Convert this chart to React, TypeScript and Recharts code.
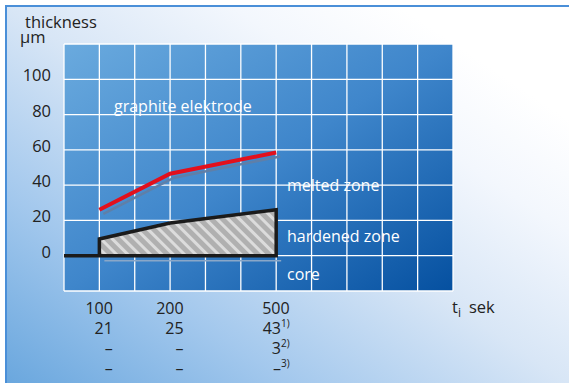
import React from 'react';
import { ComposedChart, Line, Area, XAxis, YAxis, CartesianGrid } from 'recharts';

// grid columns of the plot, the times sit on some of them
const columns = [0, 1, 2, 3, 4, 5, 6, 7, 8, 9, 10, 11];
const timeColumns = [1, 3, 6];
const times = ['100', '200', '500'];
const rowTwo = ['21', '25', '43'];
const rowThree = ['–', '–', '3'];
const rowFour = ['–', '–', '–'];
const notes = ['1)', '2)', '3)'];

const yTicks = [-20, 0, 20, 40, 60, 80, 100, 120];
const yLabels = [0, 20, 40, 60, 80, 100];

// thickness in µm
const meltedTop = [26, 46.5, 58.5];
const hardenedTop = [9.5, 18.5, 26];

const meltedData = timeColumns.map((x, i) => ({ x, v: meltedTop[i] }));
const hardenedData = timeColumns.map((x, i) => ({ x, v: hardenedTop[i] }));
const outlineData = [
  { x: 0, v: 0 },
  { x: timeColumns[0], v: 0 },
  ...hardenedData,
  { x: timeColumns[timeColumns.length - 1], v: 0 },
  { x: timeColumns[0], v: 0 },
];

const FONT = '"Open Sans", sans-serif';
const DARK = '#222';

const YTick = ({ y, payload }: any) => {
  if (!yLabels.includes(payload.value)) return null;
  return (
    <text x={51} y={y + 2} textAnchor="end" fontSize={16.5} fill={DARK} fontFamily={FONT}>
      {payload.value}
    </text>
  );
};

const XTick = ({ x, payload }: any) => {
  const i = timeColumns.indexOf(payload.value);
  if (i < 0) return null;
  const withNote = i === times.length - 1;
  const right = x + 13.5;
  const sup = (n: string) =>
    withNote ? (
      <tspan fontSize={10} dy={-7}>
        {n}
      </tspan>
    ) : null;
  return (
    <g fontSize={16} fill={DARK} fontFamily={FONT} textAnchor="end">
      <text x={right} y={314}>{times[i]}</text>
      <text x={right} y={334}>
        {rowTwo[i]}
        {sup(notes[0])}
      </text>
      <text x={right} y={354}>
        {rowThree[i]}
        {sup(notes[1])}
      </text>
      <text x={right} y={374}>
        {rowFour[i]}
        {sup(notes[2])}
      </text>
    </g>
  );
};

export default function App() {
  return (
    <div
      style={{
        position: 'absolute',
        left: 0,
        top: 0,
        width: 569,
        height: 383,
        background: '#fff',
      }}
    >
      <div
        style={{
          position: 'absolute',
          left: 5,
          top: 5,
          right: 0,
          bottom: 0,
          borderLeft: '2px solid #4a8fd8',
          borderTop: '2px solid #4a8fd8',
          background:
            'linear-gradient(to top right, #6aa7de 0%, #a3c8ed 25%, #d8e6f6 50%, #f3f7fd 70%, #ffffff 85%)',
        }}
      />
      <div style={{ position: 'absolute', left: 0, top: 0 }}>
        <ComposedChart width={569} height={383} margin={{ top: 44, right: 116, bottom: 0, left: 4 }}>
          <defs>
            <linearGradient id="plotBg" x1="0" y1="0" x2="1" y2="1">
              <stop offset="0%" stopColor="#6aaade" />
              <stop offset="50%" stopColor="#3f86cb" />
              <stop offset="100%" stopColor="#0550a0" />
            </linearGradient>
            <pattern id="hatch" width="8" height="8" patternUnits="userSpaceOnUse" patternTransform="rotate(45)">
              <rect width="8" height="8" fill="#b0b0b0" />
              <rect width="8" height="3" fill="#dcdcdc" />
            </pattern>
          </defs>
          <CartesianGrid stroke="#fff" strokeWidth={1.3} fill="url(#plotBg)" fillOpacity={1} />
          <XAxis
            type="number"
            dataKey="x"
            domain={[0, 11]}
            ticks={columns}
            interval={0}
            height={92}
            axisLine={false}
            tickLine={false}
            tick={<XTick />}
          />
          <YAxis
            type="number"
            domain={[-20, 120]}
            ticks={yTicks}
            interval={0}
            width={60}
            axisLine={false}
            tickLine={false}
            tick={<YTick />}
          />
          <Area
            data={hardenedData}
            dataKey="v"
            type="linear"
            baseValue={0}
            fill="url(#hatch)"
            fillOpacity={1}
            stroke="none"
            isAnimationActive={false}
          />
          <Line
            data={outlineData.slice(-2)}
            dataKey="v"
            type="linear"
            stroke="#8aa7c8"
            strokeWidth={1.5}
            dot={false}
            style={{ transform: 'translate(5px, 5px)' }}
            isAnimationActive={false}
          />
          <Line
            data={outlineData}
            dataKey="v"
            type="linear"
            stroke="#1b1b1b"
            strokeWidth={3.5}
            strokeLinejoin="miter"
            dot={false}
            isAnimationActive={false}
          />
          <Line
            data={meltedData}
            dataKey="v"
            type="linear"
            stroke="#5f7fa8"
            strokeWidth={2.5}
            dot={false}
            style={{ transform: 'translate(4px, 4px)' }}
            isAnimationActive={false}
          />
          <Line
            data={meltedData}
            dataKey="v"
            type="linear"
            stroke="#e3101c"
            strokeWidth={4}
            dot={false}
            isAnimationActive={false}
          />
          <g fontFamily={FONT} fontSize={16} fill="#fff">
            <text x={114} y={112}>graphite elektrode</text>
            <text x={287} y={191}>melted zone</text>
            <text x={287} y={242}>hardened zone</text>
            <text x={287} y={280}>core</text>
          </g>
          <g fontFamily={FONT} fontSize={16.5} fill={DARK}>
            <text x={25} y={28}>thickness</text>
            <text x={20} y={43}>µm</text>
            <text x={452} y={313}>
              t<tspan fontSize={12} dy={4}>i</tspan>
              <tspan dx={8} dy={-4}>sek</tspan>
            </text>
          </g>
        </ComposedChart>
      </div>
    </div>
  );
}
